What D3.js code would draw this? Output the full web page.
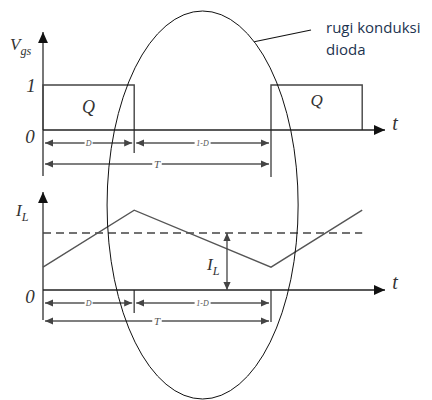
<!DOCTYPE html>
<html>
<head>
<meta charset="utf-8">
<script src="https://cdn.jsdelivr.net/npm/d3@7"></script>
<style>
  html, body { margin: 0; padding: 0; background: #fff; }
  svg { display: block; }
</style>
</head>
<body>
<script>
// Switching period normalised to 1, duty cycle D = 0.4
const pulses = [
  { start: 0.0, end: 0.4, label: "Q" },
  { start: 1.0, end: 1.4, label: "Q" }
];
const gateHigh = 1;

// Inductor current: ramps up during D, down during 1-D
const ilTimes = [0.0, 0.4, 1.0, 1.4];
const ilValues = [0.4, 1.4, 0.4, 1.4];
const ilAverage = 1.0;
const ilAverageEnd = 1.4;
const ilMarkerTime = 0.807;

// Dimension spans under each time axis
const dimSpans = [
  { from: 0.0, to: 0.4, label: "D", row: 0 },
  { from: 0.4, to: 1.0, label: "1-D", row: 0 },
  { from: 0.0, to: 1.0, label: "T", row: 1 }
];
const dimTicks = [0.4, 1.0];

// Region of interest: diode conduction interval
const lossCenterTime = 0.7;
const lossHalfWidth = 0.419;
const lossNoteLines = ["rugi konduksi", "dioda"];

const W = 432, H = 400;
const svg = d3.select("body").append("svg").attr("width", W).attr("height", H);

const x = d3.scaleLinear().domain([0, 1.5]).range([43, 385]);
const yV = d3.scaleLinear().domain([0, 1]).range([130, 85]);
const yI = d3.scaleLinear().domain([0, 1]).range([290, 233]);

const defs = svg.append("defs");
function arrowMarker(id, color, size) {
  defs.append("marker")
    .attr("id", id)
    .attr("viewBox", "0 0 10 10")
    .attr("refX", 10).attr("refY", 5)
    .attr("markerUnits", "userSpaceOnUse")
    .attr("markerWidth", size).attr("markerHeight", size)
    .attr("orient", "auto-start-reverse")
    .append("path")
    .attr("d", "M0,0.5 L10,5 L0,9.5 Z")
    .attr("fill", color);
}
arrowMarker("axArrow", "#111", 11);
arrowMarker("dimArrow", "#444", 8);

const serif = "'Liberation Serif', 'DejaVu Serif', serif";
const line = d3.line();

function italic(g, px, py, txt, size, anchor) {
  return g.append("text")
    .attr("x", px).attr("y", py)
    .attr("font-family", serif).attr("font-style", "italic")
    .attr("font-size", size).attr("fill", "#333")
    .attr("text-anchor", anchor || "middle")
    .text(txt);
}

function subLabel(g, px, py, main, sub, size) {
  const t = g.append("text")
    .attr("x", px).attr("y", py)
    .attr("font-family", serif).attr("font-style", "italic")
    .attr("font-size", size).attr("fill", "#333");
  t.append("tspan").text(main);
  t.append("tspan").attr("dy", size * 0.3).attr("font-size", size * 0.72).text(sub);
}

// Dimension arrows below a time axis
function dimensions(g, axisY, rowY, tickBottoms) {
  dimSpans.forEach(s => {
    const yy = axisY + rowY[s.row];
    const x0 = x(s.from) + 2, x1 = x(s.to) - 2;
    g.append("path")
      .attr("d", line([[x0, yy], [x1, yy]]))
      .attr("stroke", "#555").attr("stroke-width", 1.3)
      .attr("marker-start", "url(#dimArrow)")
      .attr("marker-end", "url(#dimArrow)");
    const xm = (x(s.from) + x(s.to)) / 2;
    const fs = s.label === "T" ? 11 : 8;
    const w = s.label.length * fs * 0.5 + 4;
    g.append("rect")
      .attr("x", xm - w / 2).attr("y", yy - 3)
      .attr("width", w).attr("height", 6).attr("fill", "#fff");
    g.append("text")
      .attr("x", xm).attr("y", yy + fs * 0.33)
      .attr("font-family", serif).attr("font-style", "italic")
      .attr("font-size", fs).attr("fill", "#555")
      .attr("text-anchor", "middle").text(s.label);
  });
  dimTicks.forEach((t, i) => {
    g.append("line")
      .attr("x1", x(t)).attr("x2", x(t))
      .attr("y1", axisY).attr("y2", tickBottoms[i])
      .attr("stroke", "#555").attr("stroke-width", 1.5);
  });
}

// ---------- Gate signal panel ----------
const gatePanel = svg.append("g");

gatePanel.append("path")
  .attr("d", line([[x(0), 176], [x(0), 32]]))
  .attr("stroke", "#555").attr("stroke-width", 1.6)
  .attr("marker-end", "url(#axArrow)");

dimensions(gatePanel, yV(0), [13, 34], [153, 177]);

pulses.forEach(p => {
  gatePanel.append("path")
    .attr("d", line([[x(p.start), yV(0)], [x(p.start), yV(gateHigh)],
                     [x(p.end), yV(gateHigh)], [x(p.end), yV(0)]]))
    .attr("fill", "none").attr("stroke", "#444").attr("stroke-width", 1.4);
});

gatePanel.append("path")
  .attr("d", line([[x(0), yV(0)], [x(1.5), yV(0)]]))
  .attr("stroke", "#222").attr("stroke-width", 1.4)
  .attr("marker-end", "url(#axArrow)");

italic(gatePanel, (x(pulses[0].start) + x(pulses[0].end)) / 2, 113, pulses[0].label, 18);
italic(gatePanel, (x(pulses[1].start) + x(pulses[1].end)) / 2, 106, pulses[1].label, 17);
italic(gatePanel, 31, yV(gateHigh) + 7, "1", 19);
italic(gatePanel, 30, yV(0) + 13, "0", 19);
italic(gatePanel, 395, yV(0) + 0, "t", 20);
subLabel(gatePanel, 10, 50, "V", "gs", 17);

// ---------- Inductor current panel ----------
const currentPanel = svg.append("g");

currentPanel.append("path")
  .attr("d", line([[x(0), 320], [x(0), 192]]))
  .attr("stroke", "#555").attr("stroke-width", 1.6)
  .attr("marker-end", "url(#axArrow)");

dimensions(currentPanel, yI(0), [13, 31], [313, 322]);

currentPanel.append("path")
  .attr("d", line([[x(0), yI(0)], [x(1.5), yI(0)]]))
  .attr("stroke", "#222").attr("stroke-width", 1.4)
  .attr("marker-end", "url(#axArrow)");

currentPanel.append("path")
  .attr("d", line([[x(0), yI(ilAverage)], [x(ilAverageEnd), yI(ilAverage)]]))
  .attr("stroke", "#444").attr("stroke-width", 1.3)
  .attr("stroke-dasharray", "8,5");

currentPanel.append("path")
  .attr("d", line(ilTimes.map((t, i) => [x(t), yI(ilValues[i])])))
  .attr("fill", "none").attr("stroke", "#555").attr("stroke-width", 1.4);

currentPanel.append("path")
  .attr("d", line([[x(ilMarkerTime), yI(ilAverage)], [x(ilMarkerTime), yI(0)]]))
  .attr("stroke", "#444").attr("stroke-width", 1.3)
  .attr("marker-start", "url(#dimArrow)")
  .attr("marker-end", "url(#dimArrow)");

subLabel(currentPanel, 207, 270, "I", "L", 17);
subLabel(currentPanel, 16, 216, "I", "L", 17);
italic(currentPanel, 30, yI(0) + 13, "0", 19);
italic(currentPanel, 395, yI(0) - 1, "t", 20);

// ---------- Conduction-loss callout ----------
const callout = svg.append("g");
const cx = x(lossCenterTime), rx = x(lossCenterTime + lossHalfWidth) - cx;
const cy = 205, ry = 194;
callout.append("ellipse")
  .attr("cx", cx).attr("cy", cy).attr("rx", rx).attr("ry", ry)
  .attr("fill", "none").attr("stroke", "#111").attr("stroke-width", 1);

const ang = -1.0;
const px = cx + rx * Math.cos(ang), py = cy + ry * Math.sin(ang);
callout.append("line")
  .attr("x1", px).attr("y1", py).attr("x2", 311).attr("y2", 30)
  .attr("stroke", "#111").attr("stroke-width", 1.1);

callout.selectAll("text.lbl").data(lossNoteLines).enter().append("text")
  .attr("class", "lbl")
  .attr("x", 326).attr("y", (d, i) => 33 + i * 22)
  .attr("font-family", "'Open Sans', 'Noto Sans', sans-serif")
  .attr("font-size", 15).attr("fill", "#1c3350")
  .text(d => d);
</script>
</body>
</html>
